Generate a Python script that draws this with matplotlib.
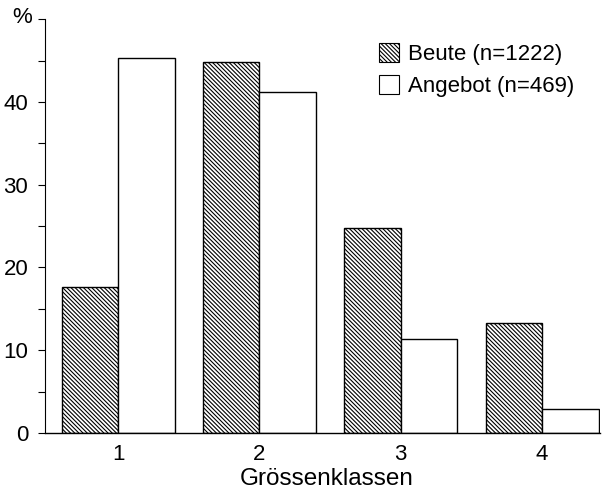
import matplotlib
matplotlib.use("Agg")
import matplotlib.pyplot as plt
import numpy as np
from matplotlib.patches import Patch
from matplotlib.ticker import FixedLocator

plt.rcParams['font.family'] = ['Liberation Sans', 'DejaVu Sans']
plt.rcParams['hatch.linewidth'] = 0.8

classes = ["1", "2", "3", "4"]
beute = [17.6, 44.8, 24.8, 13.3]
angebot = [45.3, 41.2, 11.4, 2.9]
label_beute = "Beute (n=1222)"
label_angebot = "Angebot (n=469)"
xlabel = "Grössenklassen"
ylabel = "%"
yticks = [0, 10, 20, 30, 40]
yminor = [5, 15, 25, 35, 45, 50]

fig = plt.figure(figsize=(6.08, 4.98), dpi=100)
ax = fig.add_axes([0.074, 0.1305, 0.913, 0.831])

x = np.arange(1, len(classes) + 1)
w = 0.4
hatch = '\\' * 8
ax.bar(x - w / 2, beute, w, facecolor='white', edgecolor='black', hatch=hatch, linewidth=1.0)
ax.bar(x + w / 2, angebot, w, facecolor='white', edgecolor='black', linewidth=1.0)

ax.set_xlim(0.483, 4.41)
ax.set_ylim(0, 50)
ax.set_xticks(x)
ax.set_xticklabels(classes)
ax.yaxis.set_major_locator(FixedLocator(yticks))
ax.yaxis.set_minor_locator(FixedLocator(yminor))
ax.tick_params(axis='x', length=0, labelsize=16, pad=8)
ax.tick_params(axis='y', which='both', length=5, width=0.8, labelsize=16, pad=7)
for s in ['top', 'right']:
    ax.spines[s].set_visible(False)
ax.spines['left'].set_linewidth(0.8)
ax.spines['bottom'].set_linewidth(1.0)

ax.set_xlabel(xlabel, fontsize=17.5, labelpad=4)
ax.xaxis.set_label_coords(0.508, -0.085)
fig.text(0.037, 0.965, ylabel, fontsize=16, ha='center', va='center')

handles = [Patch(facecolor='white', edgecolor='black', hatch=hatch, linewidth=0.8, label=label_beute),
           Patch(facecolor='white', edgecolor='black', linewidth=0.8, label=label_angebot)]
ax.legend(handles=handles, loc='upper left', bbox_to_anchor=(0.585, 0.963), frameon=False,
          fontsize=16, handlelength=0.9, handleheight=0.9, handletextpad=0.4,
          labelspacing=0.45, borderaxespad=0)

fig.savefig("out.png", dpi=100)
